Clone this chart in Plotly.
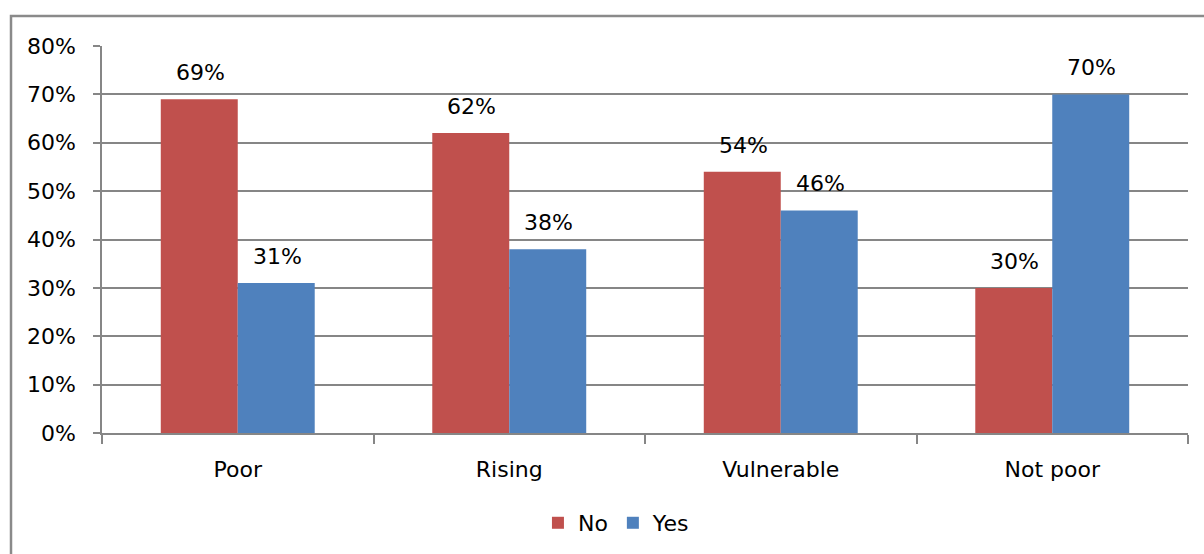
import plotly.graph_objects as go

categories = ["Poor", "Rising", "Vulnerable", "Not poor"]
no_values = [69, 62, 54, 30]
yes_values = [31, 38, 46, 70]
series_names = ["No", "Yes"]
tick_vals = [0, 10, 20, 30, 40, 50, 60, 70, 80]
tick_text = [f"{v}%" for v in tick_vals]

RED = "#C0504D"
BLUE = "#4F81BD"
FONT = "DejaVu Sans"
FS = 22

fig = go.Figure()
fig.add_trace(go.Bar(name=series_names[0], x=categories, y=no_values, marker_color=RED, marker_line_width=0))
fig.add_trace(go.Bar(name=series_names[1], x=categories, y=yes_values, marker_color=BLUE, marker_line_width=0))

L, R, T, B = 102, 16, 46, 121
W, H = 1204, 554
pw = W - L - R
ph = H - T - B
bar_px = pw / 4 * (1 - 0.433) / 2

annotations = []
for vals, sign in ((no_values, -1), (yes_values, 1)):
    for c, v in zip(categories, vals):
        annotations.append(dict(x=c, y=v, xref="x", yref="y", text=f"{v}%", showarrow=False,
                                xshift=sign * bar_px / 2 + 1, yanchor="bottom", yshift=12,
                                font=dict(family=FONT, size=FS, color="#000")))

fig.update_layout(
    width=W, height=H,
    margin=dict(l=L, r=R, t=T, b=B),
    paper_bgcolor="white", plot_bgcolor="white",
    barmode="group", bargap=0.433, bargroupgap=0,
    font=dict(family=FONT, size=FS, color="#000"),
    showlegend=True,
    legend=dict(orientation="h", xref="container", yref="container", x=0.512, y=0.056,
                xanchor="center", yanchor="middle", font=dict(family=FONT, size=FS, color="#000"),
                itemwidth=30, traceorder="normal"),
    annotations=annotations,
    shapes=[dict(type="rect", xref="paper", yref="paper",
                 x0=(11 - L) / pw, x1=1.2, y0=-0.5, y1=(H - B - 16) / ph,
                 line=dict(color="#8a8a8a", width=2.5), fillcolor="rgba(0,0,0,0)", layer="above")],
)
fig.update_xaxes(type="category", showgrid=False, showline=True, linecolor="#868686", linewidth=1.5,
                 ticks="outside", tickson="boundaries", ticklen=9, tickcolor="#868686", tickwidth=1.5,
                 ticklabelstandoff=16, tickfont=dict(family=FONT, size=FS, color="#000"))
fig.update_yaxes(range=[0, 80], tickvals=tick_vals, ticktext=tick_text, showgrid=True,
                 gridcolor="#868686", gridwidth=1.5, showline=True, linecolor="#868686", linewidth=1.5,
                 ticks="outside", ticklen=7, tickcolor="#868686", tickwidth=1.5, zeroline=False,
                 ticklabelstandoff=13, tickfont=dict(family=FONT, size=FS, color="#000"))

fig.write_html("out.html")
